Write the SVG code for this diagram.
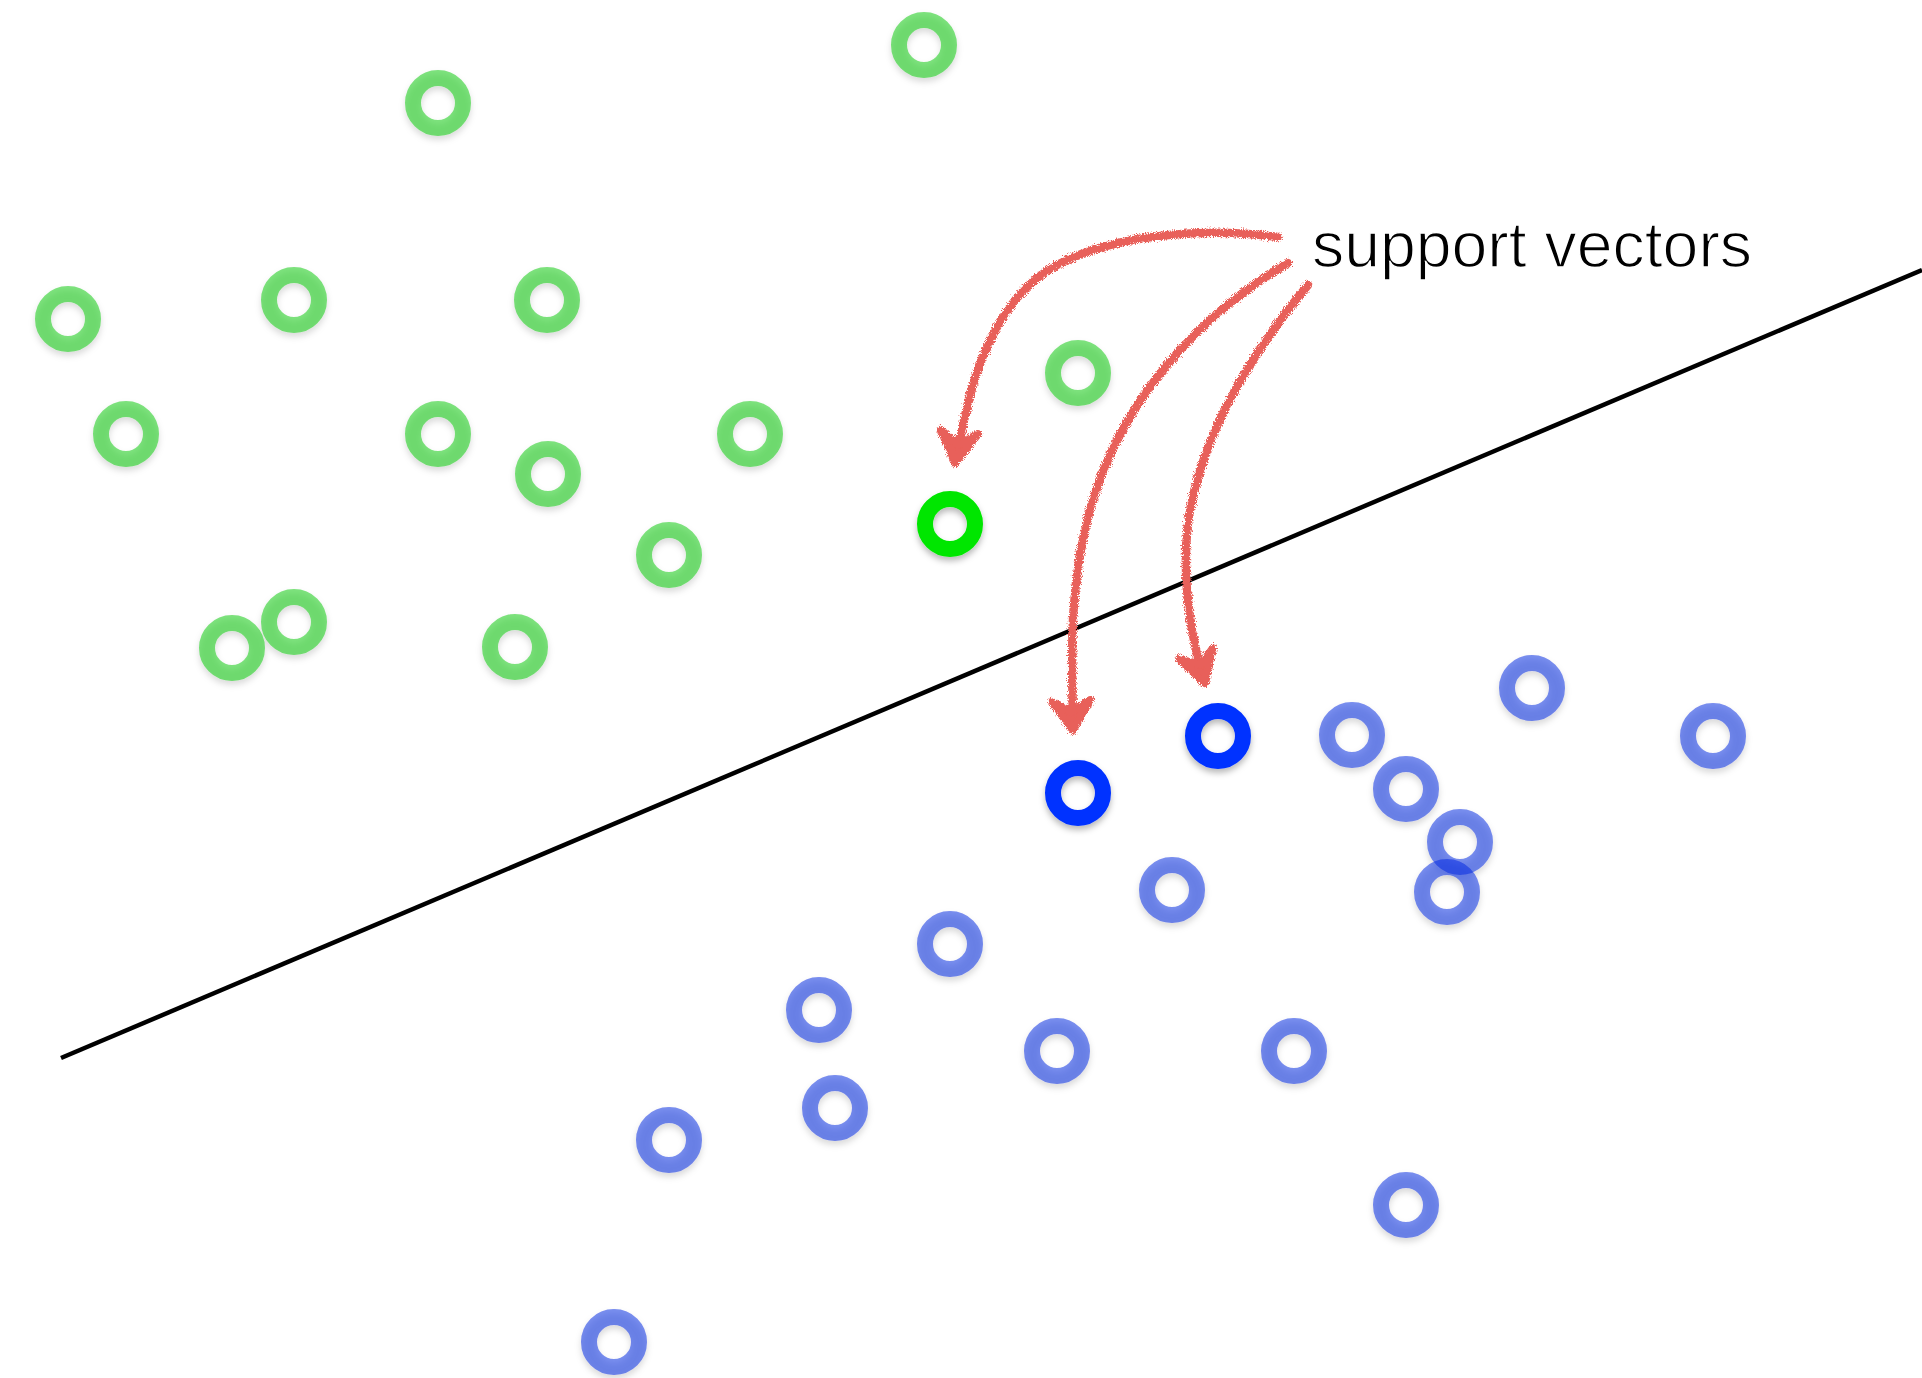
<svg xmlns="http://www.w3.org/2000/svg" width="1922" height="1378" viewBox="0 0 1922 1378">
<defs>
<filter id="shadow" x="-50%" y="-50%" width="200%" height="200%">
<feDropShadow dx="0" dy="4" stdDeviation="3" flood-color="#000" flood-opacity="0.28"/>
</filter>
<filter id="chalk" x="-20%" y="-20%" width="140%" height="140%">
<feTurbulence type="fractalNoise" baseFrequency="1.1" numOctaves="2" seed="3" result="n"/>
<feDisplacementMap in="SourceGraphic" in2="n" scale="7" xChannelSelector="R" yChannelSelector="G"/>
</filter>
<style>
.g{fill:none;stroke:#00c800;stroke-opacity:0.5;stroke-width:16}
.b{fill:none;stroke:#0528e0;stroke-opacity:0.52;stroke-width:16}
.gs{fill:none;stroke:#00e600;stroke-width:16}
.bs{fill:none;stroke:#0433ff;stroke-width:16}
.arrow{fill:none;stroke:#e8605a;stroke-width:8.5;stroke-linecap:round;stroke-linejoin:round}
.head{fill:#e8605a;stroke:#e8605a;stroke-width:8;stroke-linejoin:round}
.label{font-family:"Liberation Sans",Arial,sans-serif;font-size:65px;fill:#000;stroke:#fff;stroke-width:1.4}
</style>
</defs>
<rect width="1922" height="1378" fill="#fff"/>
<g id="separator">
<line x1="61" y1="1058" x2="1922" y2="270" stroke="#000" stroke-width="4.5"/>
</g>
<g id="green-points" filter="url(#shadow)">
<g id="g1"><circle class="g" cx="924" cy="45" r="25"/></g>
<g id="g2"><circle class="g" cx="438" cy="103" r="25"/></g>
<g id="g3"><circle class="g" cx="68" cy="319" r="25"/></g>
<g id="g4"><circle class="g" cx="294" cy="300" r="25"/></g>
<g id="g5"><circle class="g" cx="547" cy="300" r="25"/></g>
<g id="g6"><circle class="g" cx="1078" cy="373" r="25"/></g>
<g id="g7"><circle class="g" cx="126" cy="434" r="25"/></g>
<g id="g8"><circle class="g" cx="438" cy="434" r="25"/></g>
<g id="g9"><circle class="g" cx="750" cy="434" r="25"/></g>
<g id="g10"><circle class="g" cx="548" cy="474" r="25"/></g>
<g id="g11"><circle class="g" cx="669" cy="555" r="25"/></g>
<g id="g12"><circle class="g" cx="294" cy="622" r="25"/></g>
<g id="g13"><circle class="g" cx="232" cy="648" r="25"/></g>
<g id="g14"><circle class="g" cx="515" cy="647" r="25"/></g>
</g>
<g id="blue-points" filter="url(#shadow)">
<g id="b1"><circle class="b" cx="1532" cy="688" r="25"/></g>
<g id="b2"><circle class="b" cx="1713" cy="736" r="25"/></g>
<g id="b3"><circle class="b" cx="1352" cy="735" r="25"/></g>
<g id="b4"><circle class="b" cx="1406" cy="789" r="25"/></g>
<g id="b5"><circle class="b" cx="1460" cy="842" r="25"/></g>
<g id="b6"><circle class="b" cx="1447" cy="892" r="25"/></g>
<g id="b7"><circle class="b" cx="1172" cy="890" r="25"/></g>
<g id="b8"><circle class="b" cx="950" cy="944" r="25"/></g>
<g id="b9"><circle class="b" cx="819" cy="1010" r="25"/></g>
<g id="b10"><circle class="b" cx="1057" cy="1051" r="25"/></g>
<g id="b11"><circle class="b" cx="1294" cy="1051" r="25"/></g>
<g id="b12"><circle class="b" cx="835" cy="1108" r="25"/></g>
<g id="b13"><circle class="b" cx="669" cy="1140" r="25"/></g>
<g id="b14"><circle class="b" cx="1406" cy="1205" r="25"/></g>
<g id="b15"><circle class="b" cx="614" cy="1342" r="25"/></g>
</g>
<g id="support-vectors" filter="url(#shadow)">
<g id="sv-green"><circle class="gs" cx="950" cy="524" r="25"/></g>
<g id="sv-blue1"><circle class="bs" cx="1078" cy="793" r="25"/></g>
<g id="sv-blue2"><circle class="bs" cx="1218" cy="736" r="25"/></g>
</g>
<g id="connectors" filter="url(#chalk)">
<path class="arrow" d="M1278,237 C1210,228 1120,232 1057,265 C1000,295 970,370 958,455"/>
<path class="head" d="M941,430 L955,463 L978,434 L958,445 Z"/>
<path class="arrow" d="M1288,263 C1200,315 1120,400 1090,510 C1068,590 1072,660 1073,720"/>
<path class="head" d="M1052,702 L1073,730 L1090,700 L1072,712 Z"/>
<path class="arrow" d="M1308,285 C1250,355 1205,430 1190,510 C1180,570 1190,630 1202,675"/>
<path class="head" d="M1179,659 L1205,683 L1213,648 L1201,665 Z"/>
</g>
<g id="label">
<text class="label" x="1312" y="267" textLength="440" lengthAdjust="spacingAndGlyphs">support vectors</text>
</g>
</svg>
